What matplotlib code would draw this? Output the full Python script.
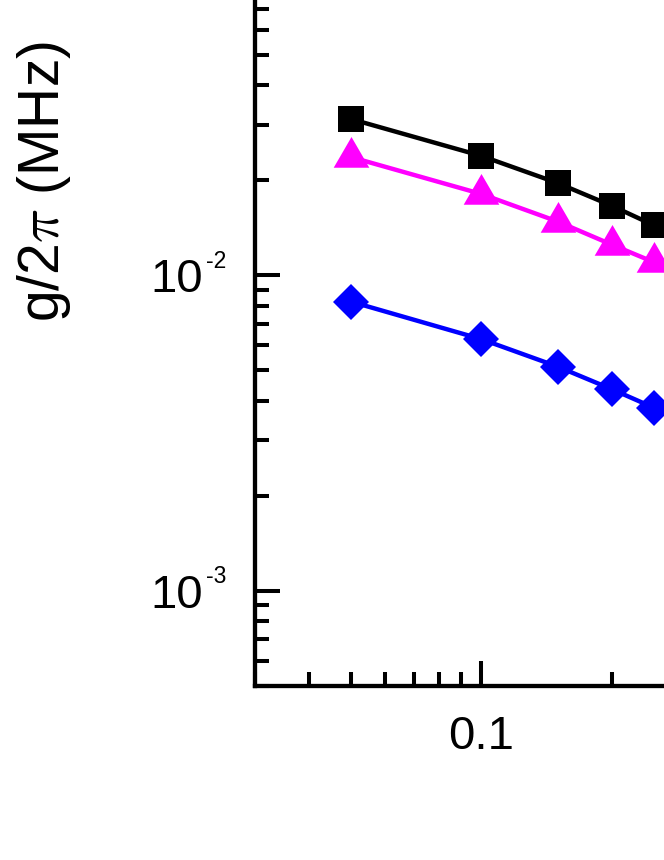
import numpy as np
import matplotlib
matplotlib.use('Agg')
import matplotlib.pyplot as plt
from matplotlib.ticker import LogLocator, FuncFormatter, NullFormatter

plt.rcParams['font.family'] = ['Liberation Sans', 'DejaVu Sans']

# datos
x = [0.05, 0.1, 0.15, 0.2, 0.25]
g_square = [0.0313, 0.0239, 0.0196, 0.0166, 0.0144]
g_triangle = [0.0237, 0.0181, 0.0148, 0.0125, 0.0110]
g_diamond = [0.00825, 0.00627, 0.00513, 0.00435, 0.00380]

x_major = [0.1]
y_major = [1e-3, 1e-2]

# triangulo con el centro en el baricentro
tri = [(-0.87, -0.5), (0.87, -0.5), (0.0, 1.0)]

fig = plt.figure(figsize=(6.64, 8.60), dpi=100)
# el grafico original esta recortado: los ejes llegan hasta el borde derecho y superior
ax = fig.add_axes([254.5 / 664, 174.5 / 860, 1 - 254.5 / 664, 1 - 174.5 / 860])

ax.plot(x, g_square, color='black', lw=3.2, marker='s', ms=19, mew=0, zorder=3, clip_on=False)
ax.plot(x, g_triangle, color='#ff00ff', lw=3.2, marker=tri, ms=29.5, mew=0, zorder=3, clip_on=False)
ax.plot(x, g_diamond, color='#0000ff', lw=3.2, marker='D', ms=18.8, mew=0, zorder=3, clip_on=False)

ax.set_xscale('log')
ax.set_yscale('log')
ax.set_xlim(0.03, 0.2638)
ax.set_ylim(5e-4, 0.0746)

for s in ['top', 'right']:
    ax.spines[s].set_visible(False)
for s in ['left', 'bottom']:
    ax.spines[s].set_linewidth(3.1)

ax.set_xticks(x_major)
ax.xaxis.set_minor_locator(LogLocator(base=10, subs=np.arange(2, 10), numticks=20))
ax.xaxis.set_major_formatter(FuncFormatter(lambda v, p: '%g' % v))
ax.xaxis.set_minor_formatter(NullFormatter())

ax.set_yticks(y_major)
ax.yaxis.set_minor_locator(LogLocator(base=10, subs=np.arange(2, 10), numticks=20))
ax.yaxis.set_major_formatter(FuncFormatter(lambda v, p: '10'))
ax.yaxis.set_minor_formatter(NullFormatter())

ax.tick_params(which='both', direction='in', top=False, right=False, width=2.9)
ax.tick_params(which='major', length=18)
ax.tick_params(which='minor', length=10)
ax.tick_params(axis='x', which='major', labelsize=34, pad=21)
ax.tick_params(axis='y', which='major', labelsize=34, pad=37)

# exponentes de las etiquetas del eje y
for v in y_major:
    ax.annotate('%d' % round(np.log10(v)), xy=(0, v), xycoords=ax.get_yaxis_transform(),
                xytext=(-34.9, 5.3), textcoords='offset points',
                ha='left', va='baseline', fontsize=16.5)

ax.set_ylabel(r'g/2$\pi$ (MHz)', fontsize=41, math_fontfamily='cm')
ax.yaxis.set_label_coords(73 / 664, 1 - 181.5 / 860, transform=fig.transFigure)

fig.savefig('out.png', dpi=100)
